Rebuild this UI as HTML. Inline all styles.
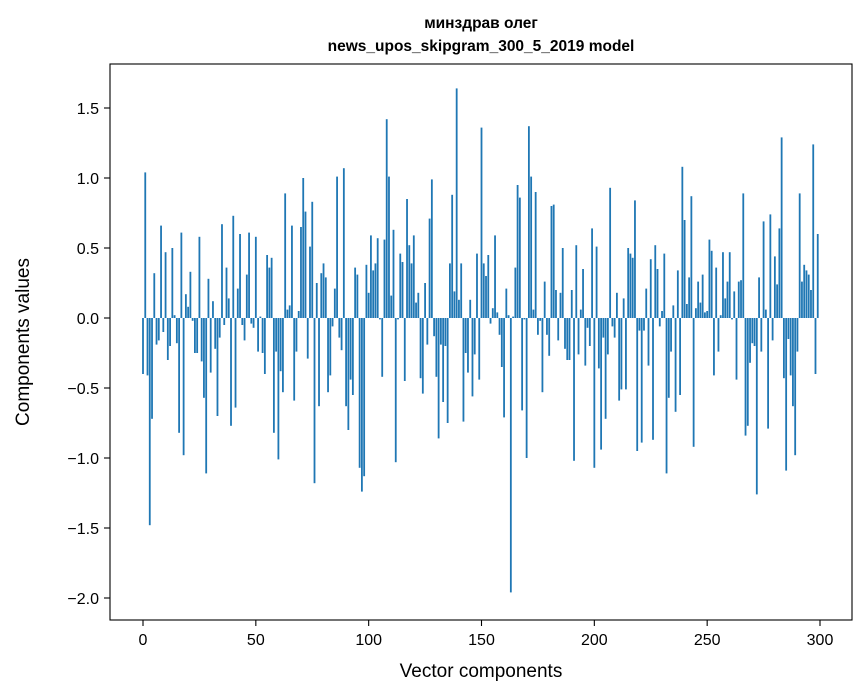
<!DOCTYPE html>
<html><head><meta charset="utf-8">
<style>
html,body{margin:0;padding:0;background:#fff;}
svg{display:block;font-family:"Liberation Sans","DejaVu Sans",sans-serif;}
</style></head>
<body>
<svg id="chart" width="867" height="696" viewBox="0 0 867 696" xmlns="http://www.w3.org/2000/svg">
<rect width="867" height="696" fill="#fff"/>
<text x="481" y="28" text-anchor="middle" font-size="15.5" font-weight="bold">минздрав олег</text>
<text x="481" y="51" text-anchor="middle" font-size="15.5" font-weight="bold">news_upos_skipgram_300_5_2019 model</text>
<g id="bars"></g>
<g id="xticks"></g>
<g id="yticks"></g>
<rect x="110" y="64" width="742" height="556" fill="none" stroke="#000" stroke-width="1.1"/>
<text x="481" y="677" text-anchor="middle" font-size="19">Vector components</text>
<text transform="translate(29,342) rotate(-90)" text-anchor="middle" font-size="19">Components values</text>
</svg>
<script>
const values = [
-0.40,1.04,-0.41,-1.48,-0.72,0.32,-0.19,-0.16,0.66,-0.10,
0.47,-0.30,-0.20,0.50,0.02,-0.18,-0.82,0.61,-0.98,0.17,
0.08,0.33,-0.02,-0.25,-0.25,0.58,-0.31,-0.57,-1.11,0.28,
-0.39,0.12,-0.22,-0.70,-0.14,0.67,-0.05,0.36,0.14,-0.77,
0.73,-0.64,0.21,0.60,-0.05,-0.16,0.31,0.61,-0.04,-0.07,
0.58,-0.24,0.01,-0.25,-0.40,0.45,0.36,0.43,-0.82,-0.24,
-1.01,-0.38,-0.53,0.89,0.06,0.09,0.66,-0.59,-0.24,0.05,
0.65,1.00,0.76,-0.29,0.51,0.83,-1.18,0.25,-0.63,0.32,
0.39,0.29,-0.53,-0.41,-0.06,0.21,1.01,-0.14,-0.23,1.07,
-0.63,-0.80,-0.44,-0.55,0.36,0.31,-1.07,-1.24,-1.13,0.38,
0.18,0.59,0.34,0.39,0.57,-0.01,-0.42,0.56,1.42,1.01,
0.16,0.63,-1.03,-0.01,0.46,0.40,-0.45,0.85,0.52,0.39,
0.59,0.11,0.18,-0.43,-0.54,0.25,-0.19,0.71,0.99,-0.13,
-0.42,-0.86,-0.19,-0.60,-0.20,-0.75,0.39,0.88,0.19,1.64,
0.13,0.39,-0.74,-0.25,-0.39,0.13,-0.56,-0.26,0.46,-0.44,
1.36,0.39,0.30,0.45,-0.04,0.07,0.59,0.04,-0.12,-0.35,
-0.71,0.21,0.02,-1.96,0.01,0.36,0.95,0.86,-0.66,-0.01,
-1.00,1.37,1.01,0.06,0.90,-0.12,-0.02,-0.53,0.26,-0.12,
-0.27,0.80,0.81,0.20,-0.16,0.18,0.50,-0.22,-0.30,-0.30,
0.20,-1.02,0.52,-0.26,0.06,0.35,-0.34,-0.07,-0.20,0.64,
-1.07,0.51,-0.36,-0.94,-0.14,-0.72,-0.26,0.93,-0.06,-0.14,
0.18,-0.59,-0.51,0.14,-0.51,0.50,0.46,0.43,0.84,-0.95,
-0.09,-0.89,-0.09,0.21,-0.34,0.42,-0.87,0.52,0.35,-0.06,
0.05,0.46,-1.11,-0.57,-0.24,0.09,-0.67,0.34,-0.55,1.08,
0.70,0.10,0.29,0.87,-0.92,0.07,0.26,0.11,0.31,0.04,
0.05,0.56,0.48,-0.41,0.36,-0.24,0.02,0.47,0.14,0.26,
0.47,-0.01,0.19,-0.44,0.26,0.27,0.89,-0.84,-0.77,-0.32,
-0.18,-0.20,-1.26,0.29,-0.24,0.69,0.06,-0.79,0.74,-0.16,
0.44,0.24,0.64,1.29,-0.43,-1.09,-0.15,-0.41,-0.63,-0.98,
-0.24,0.89,0.26,0.38,0.34,0.31,0.20,1.24,-0.40,0.60
];
const xTickValues = [0,50,100,150,200,250,300];
const yTickValues = [-2.0,-1.5,-1.0,-0.5,0.0,0.5,1.0,1.5];
const yTickLabels = ["\u22122.0","\u22121.5","\u22121.0","\u22120.5","0.0","0.5","1.0","1.5"];

const NS = "http://www.w3.org/2000/svg";
const X0 = 143, XS = (820-143)/300;
const Y0 = 318, YS = 140;
function xScale(v){ return X0 + v*XS; }
function yScale(v){ return Y0 - v*YS; }

const barsG = document.getElementById('bars');
const bw = 0.8*XS;
values.forEach(function(v,i){
  const r = document.createElementNS(NS,'rect');
  const y1 = yScale(Math.max(v,0)), y2 = yScale(Math.min(v,0));
  r.setAttribute('x', xScale(i)-bw/2);
  r.setAttribute('y', y1);
  r.setAttribute('width', bw);
  r.setAttribute('height', Math.max(y2-y1,0.01));
  r.setAttribute('fill', '#1f77b4');
  
  
  barsG.appendChild(r);
});

const xg = document.getElementById('xticks');
xTickValues.forEach(function(t){
  const x = xScale(t);
  const l = document.createElementNS(NS,'line');
  l.setAttribute('x1',x); l.setAttribute('x2',x);
  l.setAttribute('y1',620); l.setAttribute('y2',626);
  l.setAttribute('stroke','#000'); l.setAttribute('stroke-width','1.1');
  
  
  xg.appendChild(l);
  const tx = document.createElementNS(NS,'text');
  tx.setAttribute('x',x); tx.setAttribute('y',645);
  tx.setAttribute('text-anchor','middle'); tx.setAttribute('font-size','16');
  tx.textContent = String(t);
  
  
  xg.appendChild(tx);
});

const yg = document.getElementById('yticks');
yTickValues.forEach(function(t,i){
  const y = yScale(t);
  const l = document.createElementNS(NS,'line');
  l.setAttribute('x1',104); l.setAttribute('x2',110);
  l.setAttribute('y1',y); l.setAttribute('y2',y);
  l.setAttribute('stroke','#000'); l.setAttribute('stroke-width','1.1');
  
  
  yg.appendChild(l);
  const tx = document.createElementNS(NS,'text');
  tx.setAttribute('x',99); tx.setAttribute('y',y+6);
  tx.setAttribute('text-anchor','end'); tx.setAttribute('font-size','16');
  tx.textContent = yTickLabels[i];
  
  
  yg.appendChild(tx);
});
</script>
</body></html>
